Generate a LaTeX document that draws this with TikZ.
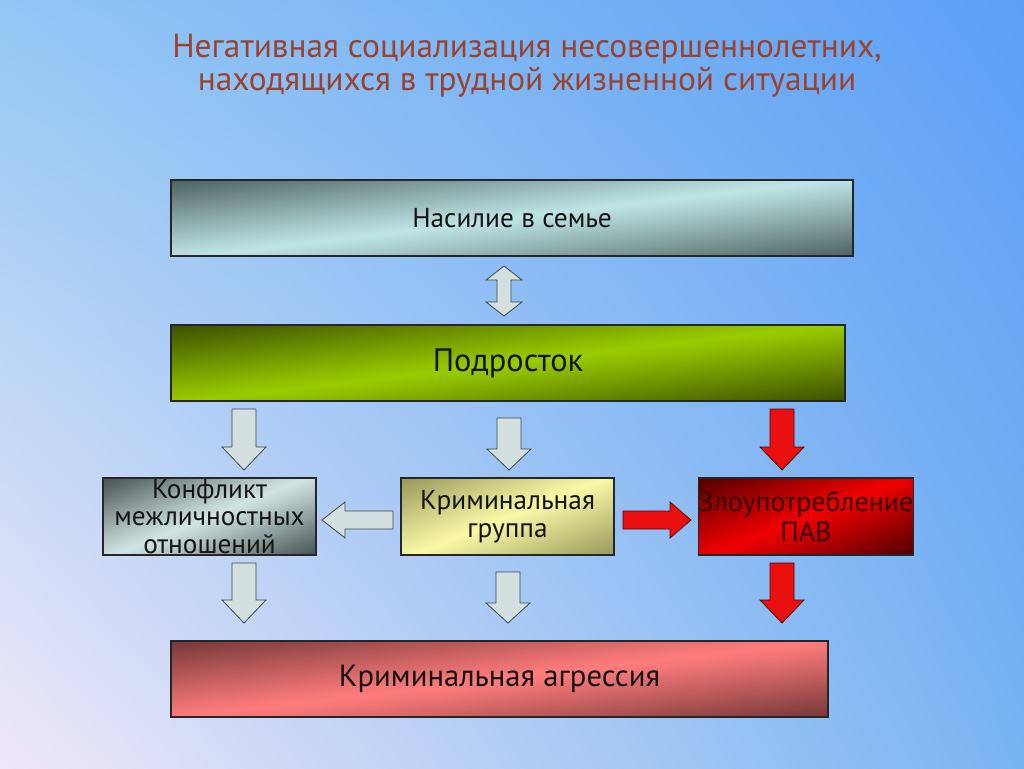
\documentclass[tikz,border=0pt]{standalone}
\usepackage{fontspec}
\setmainfont{PT Sans}
\usetikzlibrary{shadings}
\definecolor{bgTL}{HTML}{92C7F4}
\definecolor{bgTR}{HTML}{5C9FF6}
\definecolor{bgBL}{HTML}{F0E8F8}
\definecolor{bgBR}{HTML}{78B4F2}
\definecolor{titlec}{HTML}{9C422C}
\definecolor{pavtext}{HTML}{3A0000}
\definecolor{bxdark}{HTML}{607878}
\definecolor{bxlight}{HTML}{BDE3E3}
\definecolor{grayfill}{HTML}{D4E0DF}
\definecolor{grayline}{HTML}{3C4646}
\definecolor{redfill}{HTML}{EA1010}
\definecolor{redline}{HTML}{5A0000}
\pgfdeclareverticalshading[bxdark,bxlight]{bxv}{100bp}{color(0bp)=(bxdark); color(25bp)=(bxdark);
  color(30bp)=(bxdark!80!bxlight); color(36bp)=(bxdark!55!bxlight); color(42bp)=(bxdark!30!bxlight);
  color(47bp)=(bxdark!10!bxlight); color(50bp)=(bxlight);
  color(53bp)=(bxdark!10!bxlight); color(58bp)=(bxdark!30!bxlight); color(64bp)=(bxdark!55!bxlight);
  color(70bp)=(bxdark!80!bxlight); color(75bp)=(bxdark); color(100bp)=(bxdark)}
\tikzset{
  box/.style={draw=black!85, line width=0.8pt, inner sep=0pt, align=center, text=black!92},
  arrowgray/.style={fill=grayfill, draw=grayline, line width=0.6pt, line join=miter},
  arrowred/.style={fill=redfill, draw=redline, line width=0.6pt, line join=miter},
}
% diagonal corner shading of a box: x0,y0,x1,y1,slant,dark,light
\newcommand\boxshade[7]{%
  \definecolor{bxdark}{HTML}{#6}\definecolor{bxlight}{HTML}{#7}%
  \begin{scope}
    \clip (#1,#2) rectangle (#3,#4);
    \begin{scope}[transform canvas={yslant=#5}]
      \shade[shading=bxv] (#1,{#2+#5*#1}) rectangle (#3,{#4+#5*#3});
    \end{scope}
  \end{scope}}
% vertical down arrow: x, ytop, ytip, yhead, style
\newcommand\vdarrow[5]{%
  \draw[#5] ({#1-12},#2) -- ({#1+12},#2) -- ({#1+12},#4) -- ({#1+22},#4) -- (#1,#3)
    -- ({#1-22},#4) -- ({#1-12},#4) -- cycle;}
\begin{document}
\begin{tikzpicture}[x=0.75pt,y=-0.75pt]
\useasboundingbox (0,0) rectangle (1024,768);
\shade[upper left=bgTL, upper right=bgTR, lower left=bgBL, lower right=bgBR] (0,0) rectangle (1024,768);

\node[text=titlec, font=\fontsize{25}{25}\selectfont, align=center] (title) at (527,66)
  {Негативная социализация несовершеннолетних,\\находящихся в трудной жизненной ситуации};

\boxshade{171}{180}{853}{256}{0.12}{4E6262}{BEE4E4}
\boxshade{171}{325}{845}{401}{0.12}{3C5000}{99CC00}
\boxshade{103}{478}{316}{555}{0.4}{485252}{D0E4E4}
\boxshade{401}{478}{614}{555}{0.4}{98985A}{F8F8A6}
\boxshade{699}{478}{913}{555}{0.4}{520000}{EE0000}
\boxshade{171}{641}{828}{717}{0.12}{763838}{FF7C7C}

\node[box, minimum width=511.5pt, minimum height=57pt,
  font=\fontsize{20.5}{24}\selectfont] (fam) at (512,218) {Насилие в семье};
\node[box, minimum width=505.5pt, minimum height=57pt,
  font=\fontsize{24.3}{28}\selectfont] (teen) at (508,363) {Подросток};
\node[box, minimum width=159.75pt, minimum height=57.75pt,
  font=\fontsize{20.4}{20.6}\selectfont] (conf) at (209.5,516.5) {Конфликт\\межличностных\\отношений};
\node[box, minimum width=159.75pt, minimum height=57.75pt,
  font=\fontsize{20.5}{21}\selectfont] (grp) at (507.5,516.5) {Криминальная\\группа};
\node[box, minimum width=160.5pt, minimum height=57.75pt,
  font=\fontsize{21}{22.5}\selectfont, text=pavtext] (pav) at (806,516.5) {Злоупотребление\\ПАВ};
\node[box, minimum width=492.75pt, minimum height=57pt,
  font=\fontsize{23}{26}\selectfont] (agr) at (499.5,679) {Криминальная агрессия};

% double arrow between fam and teen
\draw[arrowgray] (504,266) -- (522,280) -- (511,280) -- (511,302) -- (522,302) -- (504,316)
  -- (486,302) -- (497,302) -- (497,280) -- (486,280) -- cycle;

% arrows from teen
\vdarrow{244}{409}{470}{447}{arrowgray}
\vdarrow{509}{418}{470}{449}{arrowgray}
\vdarrow{782}{409}{470}{447}{arrowred}

% horizontal arrows
\draw[arrowgray] (393,511) -- (345,511) -- (345,502) -- (322,520) -- (345,538) -- (345,529)
  -- (393,529) -- cycle;
\draw[arrowred] (623,511) -- (670,511) -- (670,502) -- (691,520) -- (670,538) -- (670,529)
  -- (623,529) -- cycle;

% arrows to agr
\vdarrow{244}{563}{623}{600}{arrowgray}
\vdarrow{508}{572}{623}{603}{arrowgray}
\vdarrow{782}{563}{623}{600}{arrowred}
\end{tikzpicture}
\end{document}
